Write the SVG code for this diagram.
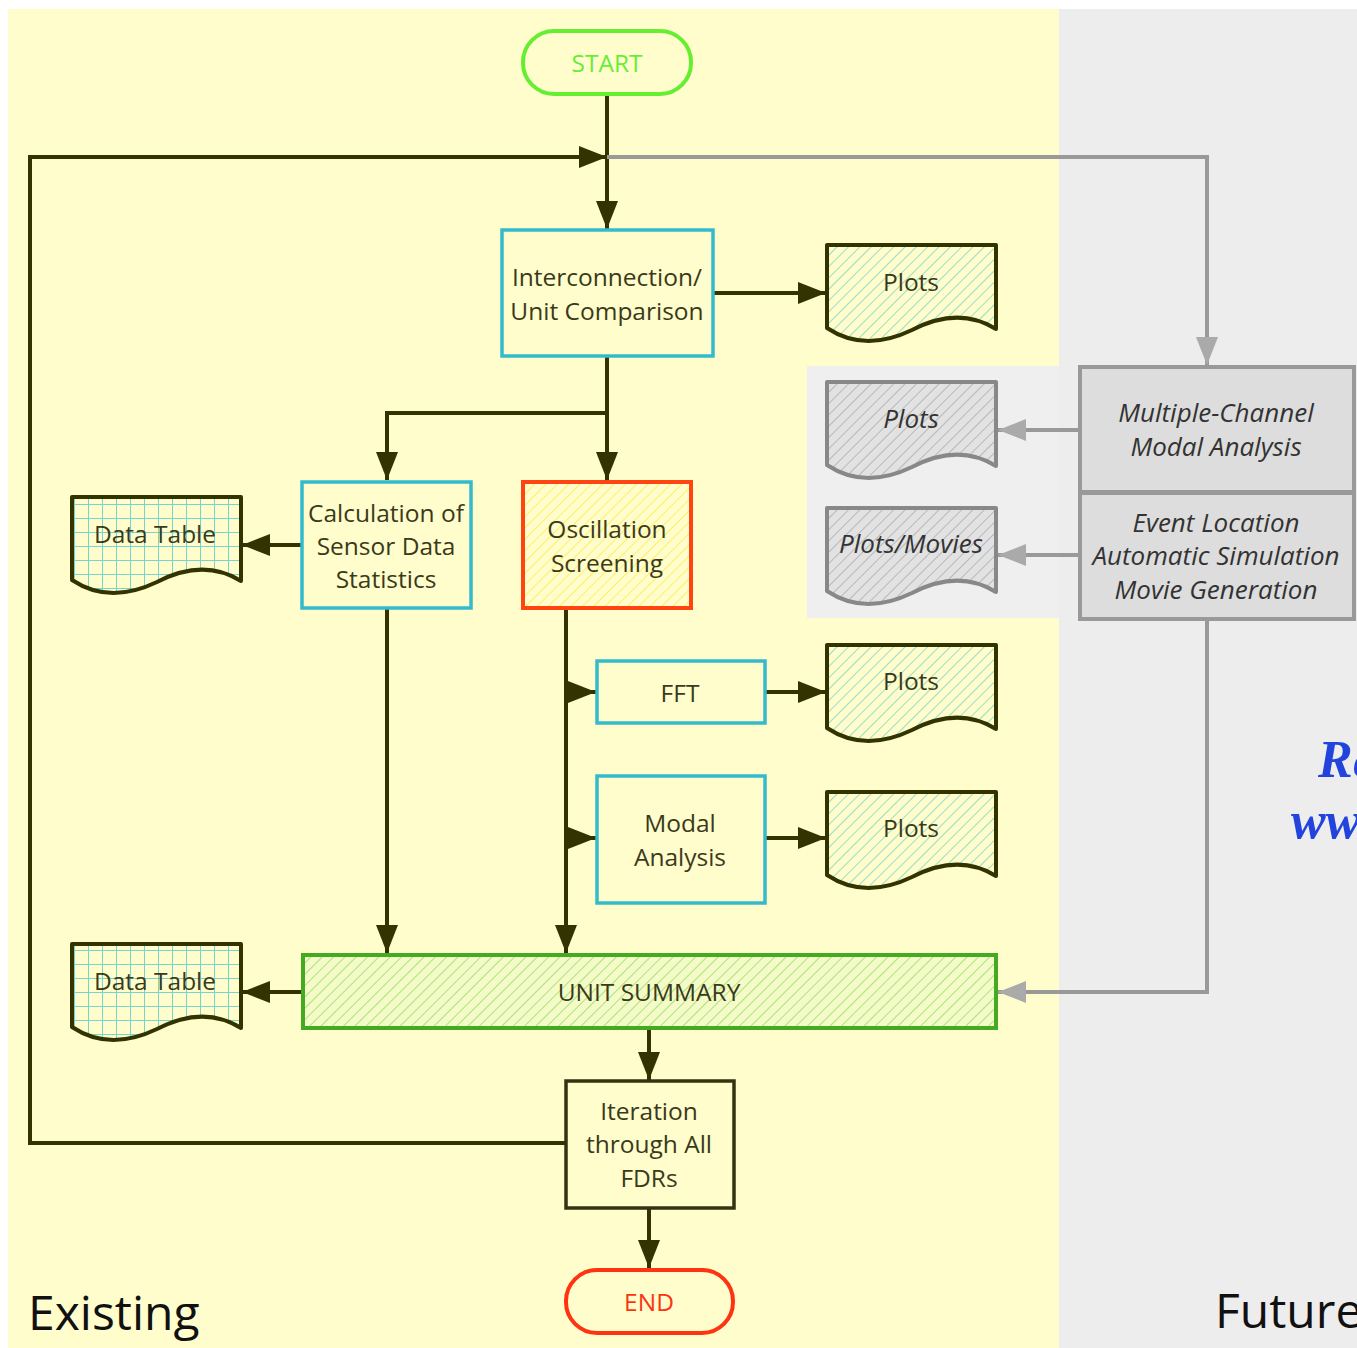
<svg xmlns="http://www.w3.org/2000/svg" width="1357" height="1348" viewBox="0 0 1357 1348">
<defs>
<style>
.t{font-family:"Open Sans","Noto Sans",sans-serif;font-size:24.5px;fill:#3a3a1a;text-anchor:middle;dominant-baseline:central}
.ti{font-family:"Open Sans","Noto Sans",sans-serif;font-size:26px;fill:#333;font-style:italic;text-anchor:middle;dominant-baseline:central}
.box{fill:none;stroke:#33bbcc;stroke-width:3.5}
.doc{stroke:#333300;stroke-width:4;stroke-linejoin:round}
.gdoc{stroke:#888;stroke-width:4;stroke-linejoin:round}
.ln{fill:none;stroke:#333300;stroke-width:4}
.gl{fill:none;stroke:#999;stroke-width:4}
.big{font-family:"Open Sans","Noto Sans",sans-serif;font-size:48px;fill:#111}
</style>
<marker id="ar" markerUnits="userSpaceOnUse" markerWidth="28" markerHeight="22" refX="28" refY="11" orient="auto"><path d="M0,0 L28,11 L0,22 z" fill="#333300"/></marker>
<marker id="ag" markerUnits="userSpaceOnUse" markerWidth="28" markerHeight="22" refX="28" refY="11" orient="auto"><path d="M0,0 L28,11 L0,22 z" fill="#aaa"/></marker>
<pattern id="hc" patternUnits="userSpaceOnUse" width="8" height="8" patternTransform="rotate(45)"><rect width="8" height="8" fill="#fffdcc"/><line x1="0" y1="0" x2="0" y2="8" stroke="#99ddcc" stroke-width="2"/></pattern>
<pattern id="hy" patternUnits="userSpaceOnUse" width="8" height="8" patternTransform="rotate(45)"><rect width="8" height="8" fill="#fffdcc"/><line x1="0" y1="0" x2="0" y2="8" stroke="#ffee66" stroke-width="2"/></pattern>
<pattern id="hg" patternUnits="userSpaceOnUse" width="8" height="8" patternTransform="rotate(45)"><rect width="8" height="8" fill="#f4fbc8"/><line x1="0" y1="0" x2="0" y2="8" stroke="#aae477" stroke-width="2"/></pattern>
<pattern id="hgr" patternUnits="userSpaceOnUse" width="8" height="8" patternTransform="rotate(45)"><rect width="8" height="8" fill="#e2e2e2"/><line x1="0" y1="0" x2="0" y2="8" stroke="#aaa" stroke-width="1.5"/></pattern>
<pattern id="grid" patternUnits="userSpaceOnUse" width="14" height="14" x="72" y="497"><rect width="14" height="14" fill="#fffdcc"/><path d="M0,0 H14 M0,0 V14" stroke="#77d4cc" stroke-width="2" fill="none"/></pattern>
<pattern id="grid2" patternUnits="userSpaceOnUse" width="14" height="14" x="72" y="944"><rect width="14" height="14" fill="#fffdcc"/><path d="M0,0 H14 M0,0 V14" stroke="#77d4cc" stroke-width="2" fill="none"/></pattern>
<path id="docshape" d="M0,0 H169 V84 C140,66 110,72 85,85 C60,97 30,103 0,83 Z"/>
</defs>
<rect width="1357" height="1348" fill="#fff"/>
<rect x="8" y="9" width="1051" height="1339" fill="#fffdcc"/>
<rect x="1059" y="9" width="298" height="1339" fill="#ededed"/>
<rect x="807" y="366" width="252" height="252" fill="#efefef"/>

<g id="connectors">
<path class="ln" d="M607,94 V229" marker-end="url(#ar)"/>
<path class="ln" d="M566,1143 H30 V157 H607" marker-end="url(#ar)"/>
<path class="gl" d="M607,157 H1207 V365" marker-end="url(#ag)"/>
<path class="ln" d="M713,293 H826" marker-end="url(#ar)"/>
<path class="ln" d="M607,356 V480" marker-end="url(#ar)"/>
<path class="ln" d="M607,413 H387 V480" marker-end="url(#ar)"/>
<path class="ln" d="M302,545 H242" marker-end="url(#ar)"/>
<path class="ln" d="M387,608 V953" marker-end="url(#ar)"/>
<path class="ln" d="M566,608 V953" marker-end="url(#ar)"/>
<path class="ln" d="M566,692 H596" marker-end="url(#ar)"/>
<path class="ln" d="M566,838 H596" marker-end="url(#ar)"/>
<path class="ln" d="M765,692 H826" marker-end="url(#ar)"/>
<path class="ln" d="M765,838 H826" marker-end="url(#ar)"/>
<path class="ln" d="M303,992 H242" marker-end="url(#ar)"/>
<path class="gl" d="M1207,620 V992 H998" marker-end="url(#ag)"/>
<path class="gl" d="M1080,430 H998" marker-end="url(#ag)"/>
<path class="gl" d="M1080,555 H998" marker-end="url(#ag)"/>
<path class="ln" d="M649,1028 V1080" marker-end="url(#ar)"/>
<path class="ln" d="M649,1208 V1268" marker-end="url(#ar)"/>
</g>

<g id="start"><rect x="523" y="31" width="168" height="63" rx="31" fill="#fffdcc" stroke="#66ee33" stroke-width="4"/><text class="t" x="607" y="62" style="fill:#66ee33">START</text></g>

<g id="interconnection"><rect class="box" x="502" y="230" width="211" height="126"/><text class="t" x="607" y="276">Interconnection/</text><text class="t" x="607" y="310">Unit Comparison</text></g>

<g id="plots1"><use href="#docshape" x="827" y="245" class="doc" fill="url(#hc)"/><text class="t" x="911" y="281">Plots</text></g>

<g id="calc"><rect class="box" x="302" y="482" width="169" height="126"/><text class="t" x="386" y="512">Calculation of</text><text class="t" x="386" y="545">Sensor Data</text><text class="t" x="386" y="578">Statistics</text></g>

<g id="datatable1"><use href="#docshape" x="72" y="497" class="doc" fill="url(#grid)"/><text class="t" x="155" y="533">Data Table</text></g>

<g id="oscillation"><rect x="523" y="482" width="168" height="126" fill="url(#hy)" stroke="#ff4411" stroke-width="4"/><text class="t" x="607" y="528">Oscillation</text><text class="t" x="607" y="562">Screening</text></g>

<g id="fft"><rect class="box" x="597" y="661" width="168" height="62"/><text class="t" x="680" y="692">FFT</text></g>
<g id="plots2"><use href="#docshape" x="827" y="645" class="doc" fill="url(#hc)"/><text class="t" x="911" y="680">Plots</text></g>

<g id="modal"><rect class="box" x="597" y="776" width="168" height="127"/><text class="t" x="680" y="822">Modal</text><text class="t" x="680" y="856">Analysis</text></g>
<g id="plots3"><use href="#docshape" x="827" y="792" class="doc" fill="url(#hc)"/><text class="t" x="911" y="827">Plots</text></g>

<g id="unitsummary"><rect x="303" y="955" width="693" height="73" fill="url(#hg)" stroke="#44aa22" stroke-width="4"/><text class="t" x="649" y="991">UNIT SUMMARY</text></g>

<g id="datatable2"><use href="#docshape" x="72" y="944" class="doc" fill="url(#grid2)"/><text class="t" x="155" y="980">Data Table</text></g>

<g id="iteration"><rect x="566" y="1081" width="168" height="127" fill="none" stroke="#333311" stroke-width="3.5"/><text class="t" x="649" y="1110">Iteration</text><text class="t" x="649" y="1143">through All</text><text class="t" x="649" y="1177">FDRs</text></g>

<g id="end"><rect x="566" y="1270" width="167" height="63" rx="31" fill="#fffdcc" stroke="#ff3311" stroke-width="4"/><text class="t" x="649" y="1301" style="fill:#ff3311">END</text></g>

<g id="multichannel"><rect x="1080" y="367" width="274" height="125" fill="#dddddd" stroke="#999" stroke-width="4"/><text class="ti" x="1216" y="412">Multiple-Channel</text><text class="ti" x="1216" y="446">Modal Analysis</text></g>
<g id="event"><rect x="1080" y="493" width="274" height="126" fill="#dddddd" stroke="#999" stroke-width="4"/><text class="ti" x="1216" y="522">Event Location</text><text class="ti" x="1216" y="555">Automatic Simulation</text><text class="ti" x="1216" y="589">Movie Generation</text></g>

<g id="plotsg1"><use href="#docshape" x="827" y="382" class="gdoc" fill="url(#hgr)"/><text class="ti" x="911" y="418">Plots</text></g>
<g id="plotsg2"><use href="#docshape" x="827" y="508" class="gdoc" fill="url(#hgr)"/><text class="ti" x="911" y="543">Plots/Movies</text></g>

<text class="big" x="28" y="1330">Existing</text>
<text class="big" x="1215" y="1328">Future</text>
<text x="1318" y="777" style="font-family:'Liberation Serif',serif;font-size:52px;font-weight:bold;font-style:italic;fill:#2244dd">Re</text>
<text x="1291" y="838" style="font-family:'Liberation Serif',serif;font-size:52px;font-weight:bold;font-style:italic;fill:#2244dd">www</text>
</svg>
